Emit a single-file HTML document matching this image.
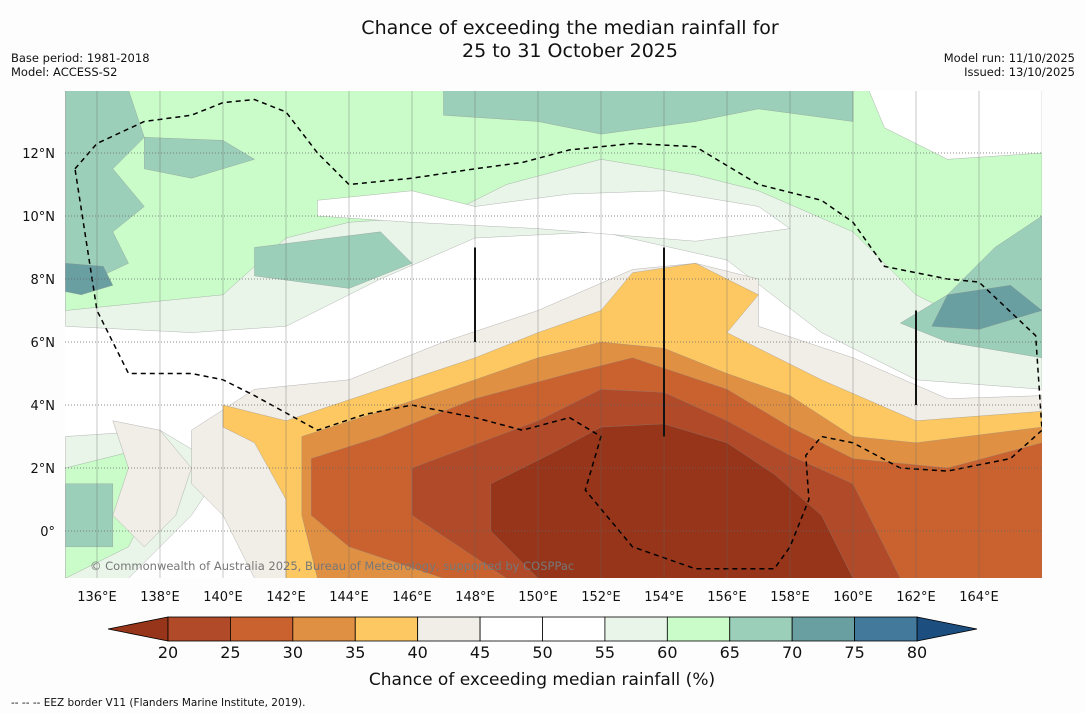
<!DOCTYPE html>
<html><head><meta charset="utf-8">
<style>
body{margin:0;background:#fdfdfd;font-family:"DejaVu Sans","Liberation Sans",sans-serif;}
svg{display:block}
</style></head>
<body>
<svg id="chart" width="1085" height="713">
<rect width="1085" height="713" fill="#fdfdfd"/>
<text x="570" y="34" text-anchor="middle" font-size="19" fill="#111">Chance of exceeding the median rainfall for</text>
<text x="570" y="57" text-anchor="middle" font-size="19" fill="#111">25 to 31 October 2025</text>
<text x="11" y="62" font-size="11.5" fill="#111">Base period: 1981-2018</text>
<text x="11" y="76" font-size="11.5" fill="#111">Model: ACCESS-S2</text>
<text x="1075" y="62" font-size="11.5" fill="#111" text-anchor="end">Model run: 11/10/2025</text>
<text x="1075" y="76" font-size="11.5" fill="#111" text-anchor="end">Issued: 13/10/2025</text>
<defs><clipPath id="mapclip"><rect x="65" y="91" width="977" height="487"/></clipPath></defs>
<g id="map" clip-path="url(#mapclip)">
<rect x="65" y="91" width="977" height="487" fill="#ffffff"/>
</g>
<g id="grid"></g>
<g id="axes"></g>
<g id="cbar"></g>
<text x="542" y="685" text-anchor="middle" font-size="17" fill="#111">Chance of exceeding median rainfall (%)</text>
<text x="11" y="706" font-size="10.5" fill="#111">--  --  -- EEZ border V11 (Flanders Marine Institute, 2019).</text>
<text x="90" y="570" font-size="11.5" fill="#777">© Commonwealth of Australia 2025, Bureau of Meteorology, supported by COSPPac</text>
</svg>
<script>
const lonTicks=[136,138,140,142,144,146,148,150,152,154,156,158,160,162,164];
const latTicks=[0,2,4,6,8,10,12];
const binEdges=[20,25,30,35,40,45,50,55,60,65,70,75,80];
const binColors=["#b04a28","#c9622f","#e09043","#fdc862","#f1ede7","#ffffff","#ffffff","#e9f5e9","#c9fcc9","#9ccfb9","#6a9fa2","#43799b"];
const underColor="#963519", overColor="#1c4f80";
const greenLight=[[135,14],[166,14],[166,4.5],[162,4.8],[159,6.3],[156,8.6],[152,9.5],[148,9.3],[145,8],[142,6.5],[139,6.3],[135,6.5]];
const greenLight2=[[135,3],[138,3.2],[140,2],[139,0.5],[137,-1.5],[135,-1.5]];
const green=[[135,14],[166,14],[166,6],[164,6.5],[162,7.5],[160,9.5],[157,10.8],[155,11.3],[152,11.8],[149,11],[147,10],[144,9.8],[142,9.3],[140,7.5],[137,7.2],[135,7]];
const green2=[[135,2],[137,2.5],[138,1.5],[137,-0.5],[135,-1.5]];
const whiteTop=[[160.5,14],[166,14],[166,12],[163,11.8],[161,12.8]];
const whiteMid=[[143,10.5],[146,10.8],[148,10.3],[151,10.7],[154,10.8],[157,10.3],[158,9.6],[155,9.2],[150,9.6],[146,9.8],[143,10]];
const teal1=[[147,14],[160,14],[160,13],[157,13.4],[155,13],[152,12.6],[150,13],[147,13.2]];
const teal2=[[135,14],[137,14],[137.5,12.5],[136.5,11.5],[137.5,10.3],[136.5,9.5],[137,8.5],[135.5,7.8],[135,8]];
const teal2b=[[137.5,12.5],[140,12.4],[141,11.8],[139,11.2],[137.5,11.5]];
const teal3=[[166,10],[164.5,9],[163,7.5],[161.5,6.6],[163,6],[166,5.5]];
const teal4=[[141,9],[145,9.5],[146,8.5],[144,7.7],[141,8.1]];
const teal5=[[135,1.5],[136.5,1.5],[136.5,-0.5],[135,-0.5]];
const dteal1=[[135,8.5],[136.2,8.4],[136.5,7.8],[135.5,7.5],[135,7.6]];
const dteal2=[[163,7.5],[165,7.8],[166,7],[164,6.4],[162.5,6.5]];
const beige=[[139,3.2],[141,4.5],[144,4.8],[147,6],[150,7],[153,8.3],[155,8.5],[157,8],[157,6.5],[160,5.5],[163,4.2],[166,4.3],[166,-1.5],[141,-1.5],[140,0.5],[139,1.5]];
const beige2=[[136.5,3.5],[138,3.2],[139,2],[138.5,0.5],[137.5,-0.5],[136.5,0.5],[137,2]];
const yellow=[[140,4],[142,3.5],[145,4.5],[148,5.5],[150,6.3],[152,7],[153,8.2],[155,8.5],[157,7.5],[156,6.3],[159,4.8],[162,3.5],[166,3.8],[166,-1.5],[142,-1.5],[142,1],[141,2.8],[140,3.3]];
const orange=[[142.5,3],[145,3.8],[148,4.8],[150,5.5],[152,6],[154,5.8],[156,5],[158,4.3],[160,3],[162,2.8],[166,3.3],[166,-1.5],[143,-1.5],[142.5,0.5]];
const dorange=[[142.8,2.3],[145,3],[148,4.2],[151,5],[153,5.5],[156,4.5],[158,3.3],[160,2.3],[163,2],[166,2.8],[166,-1.5],[147,-1.5],[144,-0.5],[142.8,0.5]];
const brown=[[146,2],[150,3.5],[152,4.5],[154,4.4],[156,3.5],[158,2.4],[160,1.5],[161,-0.5],[161.5,-1.5],[149,-1.5],[146,0.5]];
const dbrown=[[148.5,1.5],[150.5,2.5],[152,3.3],[154,3.4],[156,2.8],[157.5,1.8],[159,0.5],[160,-1.5],[150,-1.5],[148.5,0]];
const regions=[[7,greenLight],[7,greenLight2],[8,green],[8,green2],[5,whiteTop],[5,whiteMid],[9,teal1],[9,teal2],[9,teal2b],[9,teal3],[9,teal4],[9,teal5],[10,dteal1],[10,dteal2],[4,beige2],[4,beige],[3,yellow],[2,orange],[1,dorange],[0,brown],[-1,dbrown]];
const eez=[[135.3,11.5],[136,12.3],[137.5,13],[139,13.2],[140,13.6],[141,13.7],[142,13.3],[143,12],[144,11],[146,11.2],[148,11.5],[149.5,11.7],[151,12.1],[153,12.3],[155,12.2],[157,11],[159,10.5],[160,9.8],[161,8.4],[163,8],[164,7.9],[165.8,6.2],[166,3.2],[165,2.3],[163,1.9],[161.5,2],[160,2.8],[159,3],[158.5,2.4],[158.6,1],[158,-0.5],[157.5,-1.2],[155,-1.2],[153,-0.5],[151.5,1.3],[152,3],[151,3.6],[149.5,3.2],[148,3.6],[146,4],[144.5,3.7],[143,3.2],[141,4.3],[140,4.8],[139,5],[137,5],[136,7],[135.3,11.5]];
const bars=[[148,6,9],[154,3,9],[162,4,7]];
const X=lon=>65.5+(lon-135)*31.5, Y=lat=>531-lat*31.5;
const NS="http://www.w3.org/2000/svg";
function mk(tag,attrs,parent){const e=document.createElementNS(NS,tag);for(const k in attrs)e.setAttribute(k,attrs[k]);parent.appendChild(e);return e;}
const pts=a=>a.map(p=>X(p[0]).toFixed(1)+","+Y(p[1]).toFixed(1)).join(" ");
const map=document.getElementById("map");
regions.forEach(([ci,poly])=>{
  const el=mk("polygon",{points:pts(poly),fill:ci<0?underColor:binColors[ci],stroke:"#888","stroke-width":"0.3","stroke-linejoin":"round"},map);
  
  
});
const eezEl=mk("polyline",{points:pts(eez),fill:"none",stroke:"#000","stroke-width":"1.5","stroke-dasharray":"5,4"},map);


bars.forEach(b=>{
  const l=mk("line",{x1:X(b[0]),x2:X(b[0]),y1:Y(b[1]),y2:Y(b[2]),stroke:"#000","stroke-width":"2"},map);
  
  
});
const grid=document.getElementById("grid"),axes=document.getElementById("axes");
lonTicks.forEach(l=>{
  const g=mk("line",{x1:X(l),x2:X(l),y1:91,y2:578,stroke:"#666","stroke-width":"0.6","stroke-opacity":"0.6"},grid);
  
  
  const t=mk("text",{x:X(l),y:601,"text-anchor":"middle","font-size":"13",fill:"#111"},axes);
  t.textContent=l+"°E";
  
  
});
latTicks.forEach(l=>{
  const g=mk("line",{x1:65,x2:1042,y1:Y(l),y2:Y(l),stroke:"#666","stroke-width":"0.7","stroke-dasharray":"1,2"},grid);
  
  
  const t=mk("text",{x:55,y:Y(l)+5,"text-anchor":"end","font-size":"13",fill:"#111"},axes);
  t.textContent=l===0?"0°":l+"°N";
  
  
});
const cb=document.getElementById("cbar");
const cx0=168,cx1=917,cy=617,ch=24,bw=(cx1-cx0)/binColors.length;
const lt=mk("polygon",{points:`108,${cy+ch/2} ${cx0},${cy} ${cx0},${cy+ch}`,fill:underColor,stroke:"#000","stroke-width":"0.8"},cb);


const rt=mk("polygon",{points:`977,${cy+ch/2} ${cx1},${cy} ${cx1},${cy+ch}`,fill:overColor,stroke:"#000","stroke-width":"0.8"},cb);


binColors.forEach((c,i)=>{
  const r=mk("rect",{x:cx0+i*bw,y:cy,width:bw,height:ch,fill:c,stroke:"#000","stroke-width":"0.8"},cb);
  
  
});
binEdges.forEach((v,i)=>{
  const t=mk("text",{x:cx0+i*bw,y:658,"text-anchor":"middle","font-size":"16",fill:"#111"},cb);
  t.textContent=v;
  
  
});
</script>
</body></html>
